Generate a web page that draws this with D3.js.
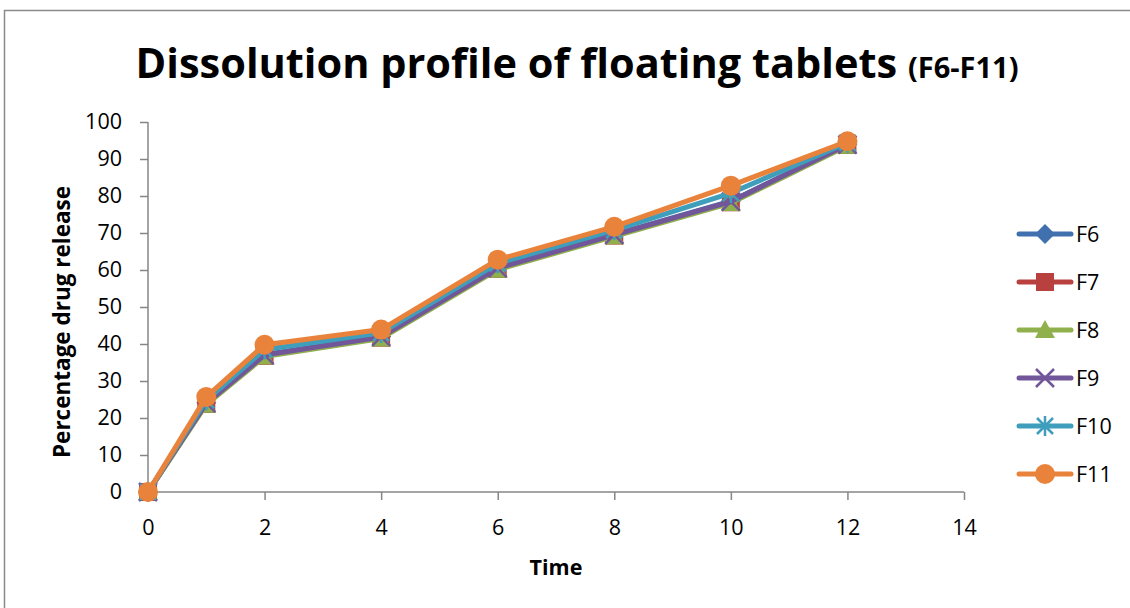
<!DOCTYPE html>
<html><head><meta charset="utf-8">
<script src="https://cdn.jsdelivr.net/npm/d3@7"></script>
<style>
html,body{margin:0;padding:0;background:#fff;}
text{font-family:"Open Sans","Noto Sans",sans-serif;}
</style></head>
<body><svg id="c" width="1130" height="608"></svg>
<script>
const time = [0, 1, 2, 4, 6, 8, 10, 12];
const seriesNames = ["F6", "F7", "F8", "F9", "F10", "F11"];
const F6  = [0, 24.1, 37.2, 42.0, 60.6, 69.6, 78.6, 94.0];
const F7  = [0, 23.8, 36.8, 41.7, 60.3, 69.3, 78.3, 93.8];
const F8  = [0, 23.6, 36.6, 41.5, 60.1, 69.1, 78.1, 93.6];
const F9  = [0, 24.0, 37.0, 41.9, 60.5, 69.5, 78.5, 93.9];
const F10 = [0, 24.8, 38.5, 43.0, 61.8, 70.8, 80.8, 94.4];
const F11 = [0, 25.7, 39.8, 43.9, 62.8, 71.7, 82.8, 94.8];
const xTicks = [0, 2, 4, 6, 8, 10, 12, 14];
const yTicks = [0, 10, 20, 30, 40, 50, 60, 70, 80, 90, 100];

const seriesValues = [F6, F7, F8, F9, F10, F11];
const colors = ["#4170AE", "#B8413F", "#8FB04C", "#72569A", "#3E9EBB", "#E9823A"];
const markers = ["diamond", "square", "triangle", "x", "star", "circle"];

const svg = d3.select("#c");
svg.append("rect").attr("x", 4.5).attr("y", 10.5).attr("width", 1140).attr("height", 610)
  .attr("fill", "none").attr("stroke", "#8a8a8a").attr("stroke-width", 1.5);

const x = d3.scaleLinear().domain([0, 14]).range([148, 964]);
const y = d3.scaleLinear().domain([0, 100]).range([492, 122]);

// title
const title = svg.append("text").attr("x", 577).attr("y", 78).attr("text-anchor", "middle")
  .attr("font-weight", "bold").attr("fill", "#000");
title.append("tspan").attr("font-size", 41.5).text("Dissolution profile of floating tablets ");
title.append("tspan").attr("font-size", 29).text("(F6-F11)");

// axes
const ya = svg.append("g").attr("transform", "translate(148,0)")
  .call(d3.axisLeft(y).tickValues(yTicks).tickSize(8).tickPadding(18));
const xa = svg.append("g").attr("transform", "translate(0,492)")
  .call(d3.axisBottom(x).tickValues(xTicks).tickSize(8).tickPadding(20));
[ya, xa].forEach(a => {
  a.select(".domain").attr("stroke", "#868686").attr("stroke-width", 1.5);
  a.selectAll(".tick line").attr("stroke", "#868686").attr("stroke-width", 1.5);
  a.selectAll("text").attr("font-size", 21.5).attr("fill", "#000").attr("font-family", '"Open Sans",sans-serif');
});
ya.select(".domain").attr("d", "M0,122V492");
xa.select(".domain").attr("d", "M148,0H964");

svg.append("text").attr("x", 556).attr("y", 575).attr("text-anchor", "middle")
  .attr("font-weight", "bold").attr("font-size", 21.5).text("Time");
svg.append("text").attr("transform", "translate(70,322) rotate(-90)").attr("text-anchor", "middle")
  .attr("font-weight", "bold").attr("font-size", 22.5).text("Percentage drug release");

function drawMarker(g, type, cx, cy, color) {
  if (type === "diamond") {
    g.append("path").attr("d", `M${cx},${cy-10}L${cx+10},${cy}L${cx},${cy+10}L${cx-10},${cy}Z`).attr("fill", color);
  } else if (type === "square") {
    g.append("rect").attr("x", cx-9).attr("y", cy-9).attr("width", 18).attr("height", 18).attr("fill", color);
  } else if (type === "triangle") {
    g.append("path").attr("d", `M${cx},${cy-10}L${cx+10},${cy+8}L${cx-10},${cy+8}Z`).attr("fill", color);
  } else if (type === "x") {
    g.append("path").attr("d", `M${cx-9},${cy-9}L${cx+9},${cy+9}M${cx+9},${cy-9}L${cx-9},${cy+9}`)
      .attr("stroke", color).attr("stroke-width", 2.5);
  } else if (type === "star") {
    g.append("path").attr("d", `M${cx-8},${cy-8}L${cx+8},${cy+8}M${cx+8},${cy-8}L${cx-8},${cy+8}M${cx},${cy-10}V${cy+10}`)
      .attr("stroke", color).attr("stroke-width", 2.5);
  } else {
    g.append("circle").attr("cx", cx).attr("cy", cy).attr("r", 10).attr("fill", color);
  }
}

const line = d3.line().x((d, i) => x(time[i])).y(d => y(d));
seriesValues.forEach((vals, s) => {
  const g = svg.append("g");
  g.append("path").datum(vals).attr("d", line).attr("fill", "none")
    .attr("stroke", colors[s]).attr("stroke-width", 5).attr("stroke-linejoin", "round").attr("stroke-linecap", "round");
  vals.forEach((v, i) => drawMarker(g, markers[s], x(time[i]), y(v), colors[s]));
});

// legend
const legY = d3.scaleLinear().domain([0, 5]).range([234, 474]);
seriesNames.forEach((name, s) => {
  const g = svg.append("g");
  const ly = legY(s);
  g.append("line").attr("x1", 1019).attr("x2", 1071).attr("y1", ly).attr("y2", ly)
    .attr("stroke", colors[s]).attr("stroke-width", 5).attr("stroke-linecap", "round");
  drawMarker(g, markers[s], 1045, ly, colors[s]);
  g.append("text").attr("x", 1076).attr("y", ly + 8).attr("font-size", 21.5).text(name);
});
</script></body></html>
